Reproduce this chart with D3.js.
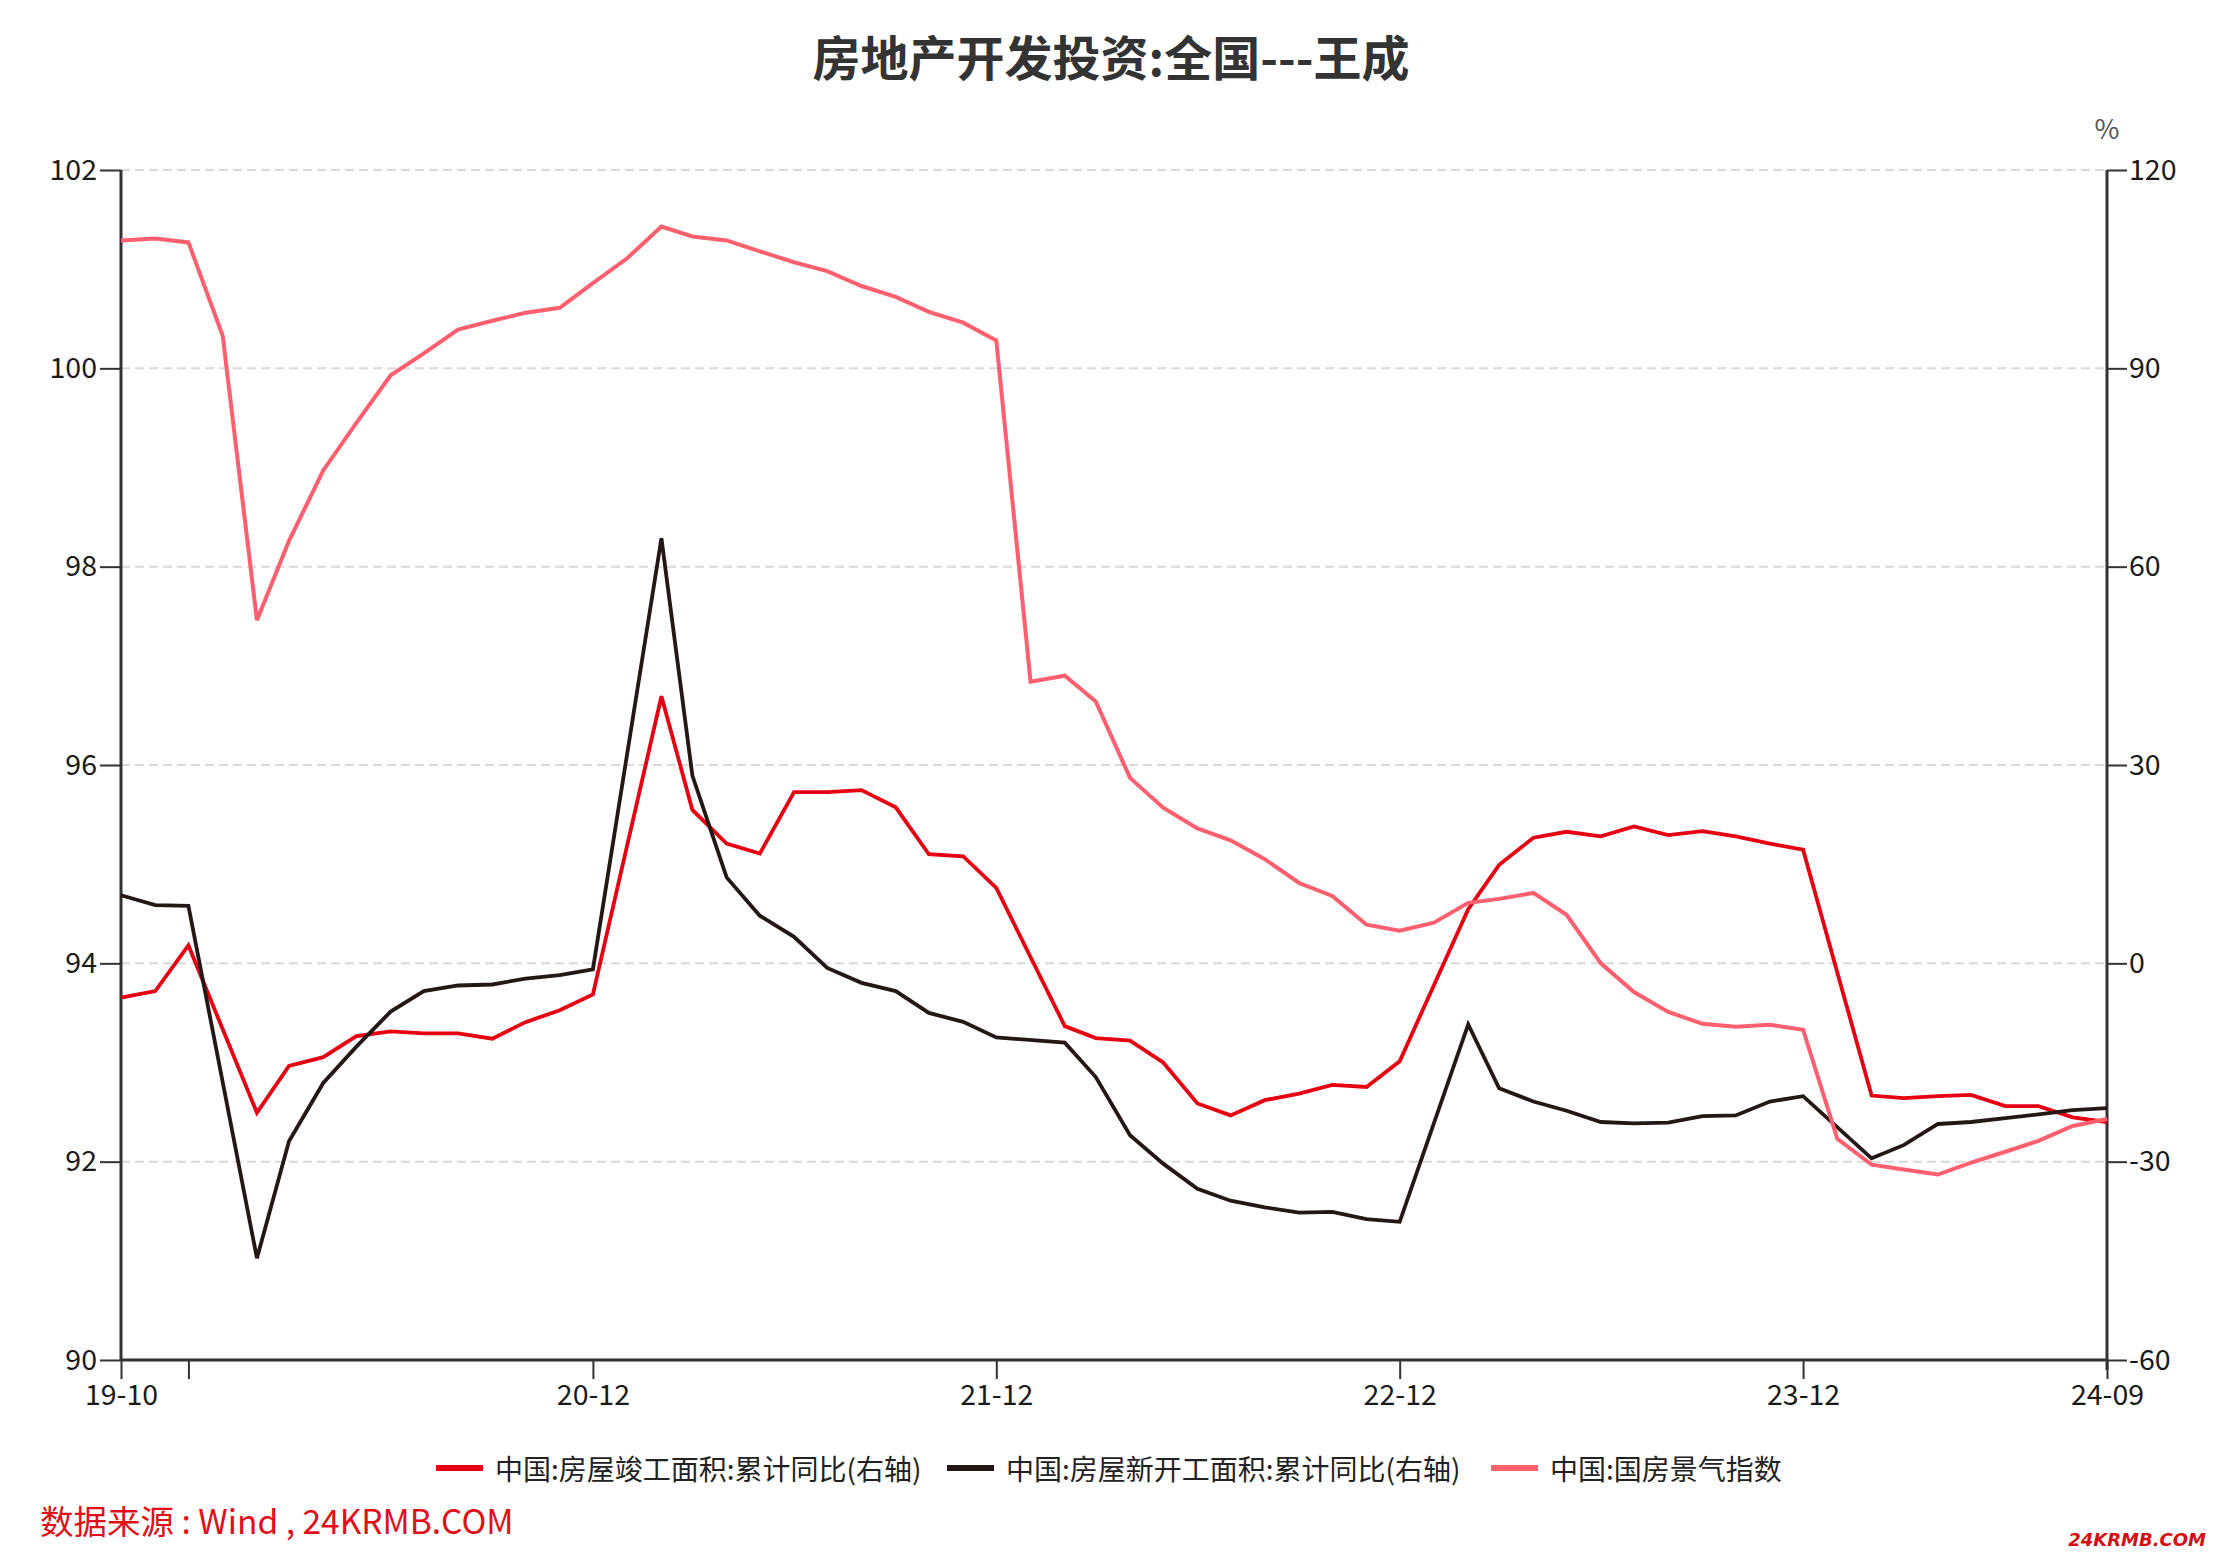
<!DOCTYPE html>
<html>
<head>
<meta charset="utf-8">
<script src="https://cdn.jsdelivr.net/npm/d3@7/dist/d3.min.js"></script>
<style>
  html, body { margin: 0; padding: 0; background: #fff; }
  svg { display: block; }
  text { font-family: "Noto Sans CJK SC", "Noto Sans", sans-serif; }
</style>
</head>
<body>
<svg id="chart" width="2222" height="1568"></svg>
<script>
// ---------------- DATA ----------------
const title = "房地产开发投资:全国---王成";
const seriesNames = ["中国:房屋竣工面积:累计同比(右轴)", "中国:房屋新开工面积:累计同比(右轴)", "中国:国房景气指数"];
const sourceText = "数据来源 : Wind , 24KRMB.COM";
const watermark = "24KRMB.COM";

// months for the cumulative YoY series (no January values)
const monthsYoY = [
  "2019-10","2019-11","2019-12",
  "2020-02","2020-03","2020-04","2020-05","2020-06","2020-07","2020-08","2020-09","2020-10","2020-11","2020-12",
  "2021-02","2021-03","2021-04","2021-05","2021-06","2021-07","2021-08","2021-09","2021-10","2021-11","2021-12",
  "2022-02","2022-03","2022-04","2022-05","2022-06","2022-07","2022-08","2022-09","2022-10","2022-11","2022-12",
  "2023-02","2023-03","2023-04","2023-05","2023-06","2023-07","2023-08","2023-09","2023-10","2023-11","2023-12",
  "2024-02","2024-03","2024-04","2024-05","2024-06","2024-07","2024-08","2024-09"
];
// 房屋竣工面积:累计同比 (%), right axis
const completedYoY = [
  -5.2, -4.2, 2.7,
  -22.6, -15.5, -14.2, -11.0, -10.3, -10.6, -10.6, -11.4, -8.9, -7.1, -4.7,
  40.4, 23.2, 18.1, 16.6, 25.9, 25.9, 26.2, 23.6, 16.5, 16.2, 11.4,
  -9.5, -11.3, -11.7, -15.0, -21.2, -23.0, -20.7, -19.7, -18.4, -18.7, -14.8,
  8.2, 14.9, 19.0, 19.9, 19.2, 20.7, 19.4, 20.0, 19.2, 18.1, 17.2,
  -20.0, -20.4, -20.1, -19.9, -21.6, -21.6, -23.3, -24.0
];
// 房屋新开工面积:累计同比 (%), right axis
const newStartsYoY = [
  10.3, 8.8, 8.7,
  -44.6, -26.9, -18.1, -12.6, -7.3, -4.2, -3.35, -3.2, -2.3, -1.8, -0.9,
  64.3, 28.4, 13.0, 7.2, 4.0, -0.7, -2.95, -4.2, -7.5, -8.85, -11.2,
  -12.0, -17.2, -26.0, -30.3, -34.1, -35.9, -36.9, -37.7, -37.6, -38.7, -39.1,
  -9.25, -18.9, -20.9, -22.3, -24.0, -24.2, -24.1, -23.1, -23.0, -20.9, -20.1,
  -29.5, -27.5, -24.3, -24.0, -23.4, -22.85, -22.2, -21.9
];
// months for the climate index (monthly)
const monthsIndex = [
  "2019-10","2019-11","2019-12",
  "2020-01","2020-02","2020-03","2020-04","2020-05","2020-06","2020-07","2020-08","2020-09","2020-10","2020-11","2020-12",
  "2021-01","2021-02","2021-03","2021-04","2021-05","2021-06","2021-07","2021-08","2021-09","2021-10","2021-11","2021-12",
  "2022-01","2022-02","2022-03","2022-04","2022-05","2022-06","2022-07","2022-08","2022-09","2022-10","2022-11","2022-12",
  "2023-01","2023-02","2023-03","2023-04","2023-05","2023-06","2023-07","2023-08","2023-09","2023-10","2023-11","2023-12",
  "2024-01","2024-02","2024-03","2024-04","2024-05","2024-06","2024-07","2024-08","2024-09"
];
// 国房景气指数, left axis
const climateIndex = [
  101.29, 101.31, 101.27,
  100.33, 97.46, 98.26, 98.97, 99.45, 99.93, 100.15, 100.39, 100.48, 100.56, 100.61, 100.86,
  101.11, 101.43, 101.33, 101.29, 101.18, 101.07, 100.98, 100.83, 100.72, 100.57, 100.46, 100.28,
  96.84, 96.90, 96.64, 95.87, 95.57, 95.36, 95.24, 95.05, 94.81, 94.68, 94.39, 94.33,
  94.41, 94.61, 94.65, 94.71, 94.49, 94.00, 93.71, 93.51, 93.39, 93.36, 93.38, 93.33,
  92.23, 91.97, 91.92, 91.87, 91.99, 92.10, 92.21, 92.36, 92.43
];

const leftTicks = [90, 92, 94, 96, 98, 100, 102];
const rightTicks = [-60, -30, 0, 30, 60, 90, 120];
const xTickMonths = ["2019-10", "2019-12", "2020-12", "2021-12", "2022-12", "2023-12", "2024-09"];
const xTickLabels = ["19-10", "", "20-12", "21-12", "22-12", "23-12", "24-09"];
const rightUnit = "%";

// ---------------- CHART ----------------
const W = 2222, H = 1568;
const M = { left: 121, right: 2107, top: 170, bottom: 1360 };
const colors = ["#e60012", "#231815", "#ff5f6e"];
const axisColor = "#333333";

const parse = d3.utcParse("%Y-%m");
const svg = d3.select("#chart");
svg.append("rect").attr("width", W).attr("height", H).attr("fill", "#fff");

const x = d3.scaleUtc()
  .domain([parse(monthsIndex[0]), parse(monthsIndex[monthsIndex.length - 1])])
  .range([M.left, M.right]);
const yL = d3.scaleLinear().domain([90, 102]).range([M.bottom, M.top]);
const yR = d3.scaleLinear().domain([-60, 120]).range([M.bottom, M.top]);

// grid lines (dashed)
svg.append("g")
  .selectAll("line").data(leftTicks.filter(t => t !== 90)).join("line")
  .attr("x1", M.left).attr("x2", M.right)
  .attr("y1", d => yL(d)).attr("y2", d => yL(d))
  .attr("stroke", "#d9d9d9").attr("stroke-width", 2)
  .attr("stroke-dasharray", "9,5");

// left axis
const leftAxis = d3.axisLeft(yL).tickValues(leftTicks).tickSize(21).tickPadding(3).tickFormat(d3.format("d"));
const gL = svg.append("g").attr("transform", `translate(${M.left},0)`).call(leftAxis);
// right axis
const rightAxis = d3.axisRight(yR).tickValues(rightTicks).tickSize(20).tickPadding(2).tickFormat(d => d < 0 ? "-" + Math.abs(d) : d);
const gR = svg.append("g").attr("transform", `translate(${M.right},0)`).call(rightAxis);
// bottom axis
const xAxis = d3.axisBottom(x)
  .tickValues(xTickMonths.map(parse))
  .tickSize(19).tickPadding(6)
  .tickFormat((d, i) => xTickLabels[i]);
const gX = svg.append("g").attr("transform", `translate(0,${M.bottom})`).call(xAxis);

[gL, gR, gX].forEach(g => {
  g.select(".domain").attr("stroke", axisColor).attr("stroke-width", 3);
  g.selectAll(".tick line").attr("stroke", axisColor).attr("stroke-width", 2);
  g.selectAll(".tick text")
    .attr("fill", "#1a1a1a")
    .style("font-size", "28.5px")
    .style("font-family", '"Noto Sans CJK SC", "Noto Sans", sans-serif');
});
gL.select(".domain").attr("d", `M0,${M.top}V${M.bottom}`);
gR.select(".domain").attr("d", `M0,${M.top}V${M.bottom + 10}`);
gX.select(".domain").attr("d", `M${M.left},0H${M.right}`);

// unit label
svg.append("text")
  .attr("x", M.right).attr("y", 127)
  .attr("text-anchor", "middle").attr("dominant-baseline", "central")
  .attr("fill", "#555").style("font-size", "27px")
  .text(rightUnit);

// lines
const yoyDates = monthsYoY.map(parse);
const idxDates = monthsIndex.map(parse);
const lineR = d3.line().x(d => x(d[0])).y(d => yR(d[1]));
const lineL = d3.line().x(d => x(d[0])).y(d => yL(d[1]));

svg.append("path")
  .datum(yoyDates.map((d, i) => [d, completedYoY[i]]))
  .attr("d", lineR).attr("fill", "none")
  .attr("stroke", colors[0]).attr("stroke-width", 3.8).attr("stroke-linejoin", "miter");
svg.append("path")
  .datum(yoyDates.map((d, i) => [d, newStartsYoY[i]]))
  .attr("d", lineR).attr("fill", "none")
  .attr("stroke", colors[1]).attr("stroke-width", 3.8).attr("stroke-linejoin", "miter");
svg.append("path")
  .datum(idxDates.map((d, i) => [d, climateIndex[i]]))
  .attr("d", lineL).attr("fill", "none")
  .attr("stroke", colors[2]).attr("stroke-width", 4).attr("stroke-linejoin", "miter");

// title
svg.append("text")
  .attr("x", 1111).attr("y", 55)
  .attr("text-anchor", "middle").attr("dominant-baseline", "central")
  .attr("fill", "#333").style("font-size", "48px").style("font-weight", "bold")
  .text(title);

// legend
const legendY = 1468;
const legendX = [436, 947, 1491];
const lg = svg.append("g");
seriesNames.forEach((name, i) => {
  lg.append("line")
    .attr("x1", legendX[i]).attr("x2", legendX[i] + 47)
    .attr("y1", legendY).attr("y2", legendY)
    .attr("stroke", colors[i]).attr("stroke-width", 6);
  lg.append("text")
    .attr("x", legendX[i] + 59).attr("y", legendY)
    .attr("dominant-baseline", "central")
    .attr("fill", "#222").style("font-size", "28px")
    .text(name);
});

// source
svg.append("text")
  .attr("x", 40).attr("y", 1519)
  .attr("dominant-baseline", "central")
  .attr("fill", "#e0101a").style("font-size", "33.5px")
  .text(sourceText);

// watermark
svg.append("text")
  .attr("x", 2206).attr("y", 1539)
  .attr("text-anchor", "end").attr("dominant-baseline", "central")
  .attr("fill", "#d40f14").style("font-size", "18px").style("font-weight", "bold").style("font-style", "italic")
  .style("font-family", '"DejaVu Sans", sans-serif')
  .text(watermark);
</script>
</body>
</html>
